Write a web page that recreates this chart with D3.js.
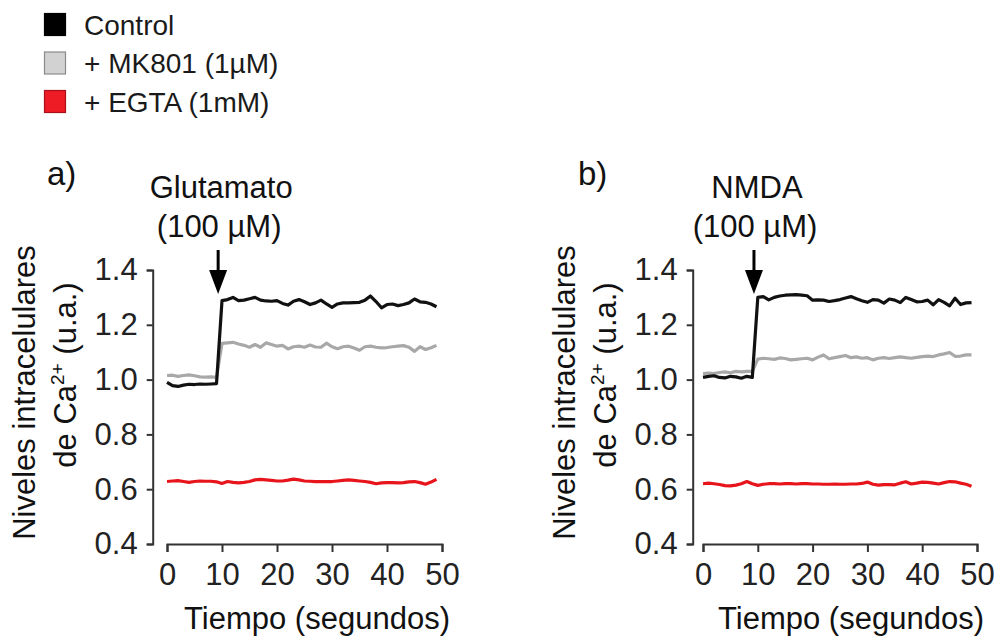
<!DOCTYPE html>
<html>
<head>
<meta charset="utf-8">
<script src="https://cdn.jsdelivr.net/npm/d3@7"></script>
<style>
  html, body { margin: 0; padding: 0; background: #fff; }
  svg { display: block; font-family: "Liberation Sans", Arial, sans-serif; }
</style>
</head>
<body>
<svg id="chart" width="1000" height="639"></svg>
<script>
// Time points (s)
const time = d3.range(0, 50);

// Panel a) – glutamate stimulation
const controlA = [0.990,0.978,0.975,0.980,0.983,0.982,0.984,0.983,0.984,0.985,
  1.288,1.292,1.300,1.288,1.290,1.295,1.300,1.290,1.287,1.286,
  1.288,1.278,1.272,1.286,1.292,1.284,1.274,1.280,1.290,1.276,
  1.264,1.276,1.280,1.280,1.281,1.282,1.290,1.305,1.285,1.262,
  1.274,1.276,1.270,1.274,1.280,1.294,1.284,1.282,1.276,1.266];
const mk801A = [1.015,1.016,1.012,1.015,1.017,1.014,1.010,1.009,1.010,1.008,
  1.132,1.134,1.136,1.130,1.125,1.118,1.128,1.118,1.134,1.128,
  1.122,1.125,1.112,1.120,1.122,1.118,1.126,1.119,1.118,1.133,
  1.120,1.113,1.120,1.122,1.115,1.107,1.120,1.122,1.118,1.116,
  1.117,1.120,1.122,1.124,1.118,1.103,1.120,1.110,1.116,1.125];
const egtaA = [0.628,0.630,0.631,0.628,0.625,0.628,0.630,0.629,0.629,0.627,
  0.621,0.628,0.625,0.623,0.625,0.628,0.634,0.636,0.634,0.632,
  0.630,0.630,0.633,0.637,0.634,0.630,0.629,0.628,0.628,0.628,
  0.628,0.630,0.632,0.634,0.632,0.630,0.628,0.625,0.620,0.623,
  0.624,0.624,0.623,0.624,0.627,0.628,0.624,0.618,0.626,0.636];

// Panel b) – NMDA stimulation
const controlB = [1.008,1.012,1.014,1.008,1.006,1.012,1.010,1.005,1.012,1.008,
  1.300,1.303,1.291,1.300,1.305,1.308,1.309,1.310,1.308,1.306,
  1.290,1.291,1.290,1.285,1.288,1.292,1.298,1.303,1.295,1.288,
  1.282,1.292,1.290,1.279,1.294,1.290,1.281,1.300,1.292,1.284,
  1.285,1.290,1.273,1.292,1.282,1.269,1.297,1.274,1.280,1.281];
const mk801B = [1.022,1.024,1.022,1.026,1.028,1.025,1.030,1.028,1.030,1.030,
  1.075,1.078,1.076,1.074,1.079,1.077,1.072,1.074,1.076,1.078,
  1.072,1.082,1.090,1.076,1.080,1.084,1.088,1.080,1.083,1.078,
  1.080,1.072,1.078,1.080,1.077,1.080,1.083,1.080,1.078,1.081,
  1.084,1.086,1.084,1.090,1.094,1.099,1.085,1.086,1.090,1.090];
const egtaB = [0.620,0.622,0.620,0.617,0.613,0.612,0.615,0.620,0.628,0.620,
  0.614,0.618,0.620,0.620,0.619,0.620,0.620,0.619,0.620,0.620,
  0.619,0.619,0.618,0.618,0.619,0.618,0.618,0.619,0.619,0.621,
  0.626,0.618,0.615,0.617,0.617,0.616,0.622,0.627,0.619,0.622,
  0.626,0.625,0.622,0.619,0.624,0.628,0.627,0.622,0.618,0.611];

const seriesNames = ["Control", "+ MK801 (1\u00b5M)", "+ EGTA (1mM)"];
const seriesColors = ["#111111", "#a8a8a8", "#e8141c"];
const swatchFill = ["#000000", "#d2d2d2", "#ee1c25"];
const swatchStroke = ["#000000", "#8a8a8a", "#a8101a"];

const yTicks = [0.4, 0.6, 0.8, 1.0, 1.2, 1.4];
const xTicks = [0, 10, 20, 30, 40, 50];
const stimTime = 9.3;

const panels = [
  { tag: "a)", stim: "Glutamato", dose: "(100 \u00b5M)", data: [controlA, mk801A, egtaA],
    yAxisX: 152.7, xRange: [167, 442], tagX: 47, ylab1X: 35, ylab2X: 76, xTitleX: 317 },
  { tag: "b)", stim: "NMDA", dose: "(100 \u00b5M)", data: [controlB, mk801B, egtaB],
    yAxisX: 692.7, xRange: [703, 977], tagX: 578, ylab1X: 575, ylab2X: 616, xTitleX: 851 }
];

const svg = d3.select("#chart");

// Legend
const legend = svg.append("g");
seriesNames.forEach((name, i) => {
  const cy = 24.5 + i * 38.5;
  legend.append("rect")
    .attr("x", 44.5).attr("y", cy - 11).attr("width", 21).attr("height", 22)
    .attr("fill", swatchFill[i]).attr("stroke", swatchStroke[i]).attr("stroke-width", 1.2);
  legend.append("text")
    .attr("x", 84).attr("y", cy + 10)
    .attr("font-size", 28).attr("fill", "#1a1a1a")
    .text(name);
});

const y = d3.scaleLinear().domain([0.4, 1.4]).range([544, 270]);

panels.forEach(p => {
  const x = d3.scaleLinear().domain([0, 50]).range(p.xRange);
  const g = svg.append("g");

  // y axis
  const yAxis = d3.axisLeft(y).tickValues(yTicks).tickFormat(d3.format(".1f"))
    .tickSize(6).tickPadding(9);
  const ya = g.append("g").attr("transform", `translate(${p.yAxisX},0)`).call(yAxis);
  ya.select(".domain").attr("stroke", "#333").attr("stroke-width", 2);
  ya.selectAll(".tick line").attr("stroke", "#333").attr("stroke-width", 2);
  ya.selectAll(".tick text").attr("font-size", 31).attr("fill", "#222")
    .attr("font-family", "Liberation Sans, Arial, sans-serif");

  // x axis
  const xAxis = d3.axisBottom(x).tickValues(xTicks).tickFormat(d3.format("d"))
    .tickSize(8).tickPadding(11);
  const xa = g.append("g").attr("transform", "translate(0,544)").call(xAxis);
  xa.select(".domain").attr("stroke", "#333").attr("stroke-width", 2);
  xa.selectAll(".tick line").attr("stroke", "#333").attr("stroke-width", 2);
  xa.selectAll(".tick text").attr("font-size", 31).attr("fill", "#222")
    .attr("font-family", "Liberation Sans, Arial, sans-serif");

  // traces (EGTA, MK801, then Control on top)
  const line = d3.line().x((d, i) => x(time[i])).y(d => y(d)).curve(d3.curveLinear);
  [2, 1, 0].forEach(k => {
    g.append("path").datum(p.data[k])
      .attr("d", line)
      .attr("fill", "none")
      .attr("stroke", seriesColors[k])
      .attr("stroke-width", 3.2)
      .attr("stroke-linejoin", "round");
  });

  // panel tag
  g.append("text").attr("x", p.tagX).attr("y", 185)
    .attr("font-size", 33).attr("fill", "#111").text(p.tag);

  // stimulus annotation and arrow
  const ax = x(stimTime);
  g.append("text").attr("x", ax + 3).attr("y", 198).attr("text-anchor", "middle")
    .attr("font-size", 31).attr("fill", "#111").text(p.stim);
  g.append("text").attr("x", ax + 1).attr("y", 237).attr("text-anchor", "middle")
    .attr("font-size", 31).attr("fill", "#111").text(p.dose);
  g.append("line").attr("x1", ax).attr("x2", ax).attr("y1", 250).attr("y2", 274)
    .attr("stroke", "#000").attr("stroke-width", 3);
  g.append("path")
    .attr("d", `M${ax - 9},270 L${ax + 9},270 L${ax},294 Z`)
    .attr("fill", "#000");

  // y axis title (two lines)
  g.append("text")
    .attr("transform", `translate(${p.ylab1X},392.5) rotate(-90)`)
    .attr("text-anchor", "middle").attr("font-size", 31).attr("fill", "#111")
    .text("Niveles intracelulares");
  const t2 = g.append("text")
    .attr("transform", `translate(${p.ylab2X},375) rotate(-90)`)
    .attr("text-anchor", "middle").attr("font-size", 31).attr("fill", "#111");
  t2.append("tspan").text("de Ca");
  t2.append("tspan").attr("font-size", 19).attr("dy", -12).text("2+");
  t2.append("tspan").attr("dy", 12).text(" (u.a.)");

  // x axis title
  g.append("text").attr("x", p.xTitleX).attr("y", 629).attr("text-anchor", "middle")
    .attr("font-size", 31).attr("fill", "#111").text("Tiempo (segundos)");
});
</script>
</body>
</html>
